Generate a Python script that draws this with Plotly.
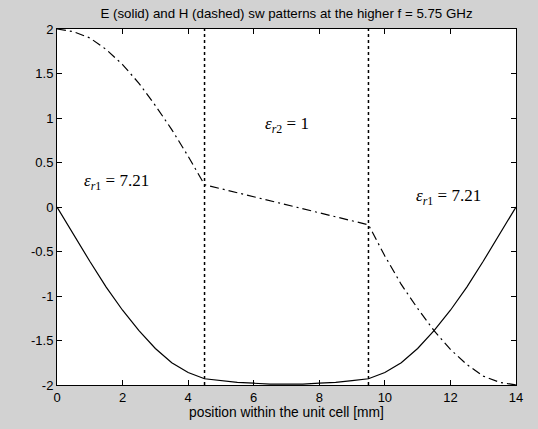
import plotly.graph_objects as go

# position within the unit cell [mm]
x_pos = [0, 0.5, 1, 1.5, 2, 2.5, 3, 3.5, 4, 4.5,
         5, 5.5, 6, 6.5, 7, 7.5, 8, 8.5, 9, 9.5,
         10, 10.5, 11, 11.5, 12, 12.5, 13, 13.5, 14]
# E field (solid)
e_field = [0, -0.31, -0.61, -0.90, -1.16, -1.39, -1.59, -1.75, -1.86, -1.93,
           -1.95, -1.97, -1.98, -1.99, -1.99, -1.99, -1.98, -1.97, -1.95, -1.93,
           -1.86, -1.75, -1.59, -1.39, -1.16, -0.90, -0.61, -0.31, 0]
# H field (dashed)
h_field = [2, 1.97, 1.90, 1.77, 1.60, 1.39, 1.14, 0.87, 0.57, 0.25,
           0.205, 0.16, 0.115, 0.07, 0.025, -0.02, -0.065, -0.11, -0.155, -0.2,
           -0.55, -0.87, -1.14, -1.39, -1.60, -1.77, -1.90, -1.97, -2]
# layer boundaries
boundaries = [4.5, 9.5]
x_ticks = [0, 2, 4, 6, 8, 10, 12, 14]
y_ticks = [-2, -1.5, -1, -0.5, 0, 0.5, 1, 1.5, 2]
y_tick_labels = ["-2", "-1.5", "-1", "-0.5", "0", "0.5", "1", "1.5", "2"]

labels = [
    (1.8, 0.28, "<i>ε</i><sub><i>r</i>1</sub> = 7.21"),
    (7.0, 0.92, "<i>ε</i><sub><i>r</i>2</sub> = 1"),
    (11.95, 0.11, "<i>ε</i><sub><i>r</i>1</sub> = 7.21"),
]

fig = go.Figure()
for b in boundaries:
    fig.add_trace(go.Scatter(x=[b, b], y=[-2, 2], mode="lines",
                             line=dict(color="black", width=1.5, dash="3px,3px"),
                             showlegend=False, hoverinfo="skip"))
fig.add_trace(go.Scatter(x=x_pos, y=e_field, mode="lines",
                         line=dict(color="black", width=1.2), showlegend=False))
fig.add_trace(go.Scatter(x=x_pos, y=h_field, mode="lines",
                         line=dict(color="black", width=1.2, dash="9px,4px,2px,4px"),
                         showlegend=False))

for lx, ly, txt in labels:
    fig.add_annotation(x=lx, y=ly, text=txt, showarrow=False,
                       font=dict(family="Liberation Serif, Times New Roman, serif",
                                 size=17, color="black"))

axis_common = dict(showline=True, linecolor="black", linewidth=1, mirror="ticks",
                   ticks="inside", ticklen=5, tickcolor="black", showgrid=False,
                   zeroline=False,
                   tickfont=dict(family="Liberation Sans, Arial, sans-serif",
                                 size=13, color="black"))

fig.update_layout(
    width=538, height=429,
    margin=dict(l=57, r=22, t=29, b=44),
    paper_bgcolor="#d2d2d2",
    plot_bgcolor="white",
    title=dict(text="E (solid) and H (dashed) sw patterns at the higher f = 5.75 GHz",
               x=(57 + 516) / 2 / 538, xanchor="center", y=1 - 13 / 429, yanchor="middle",
               font=dict(family="Liberation Sans, Arial, sans-serif", size=13.3, color="black")),
    xaxis=dict(range=[0, 14], tickvals=x_ticks, ticktext=[str(t) for t in x_ticks],
               title=dict(text="position within the unit cell [mm]", standoff=3,
                          font=dict(family="Liberation Sans, Arial, sans-serif",
                                    size=13.8, color="black")),
               **axis_common),
    yaxis=dict(range=[-2, 2], tickvals=y_ticks, ticktext=y_tick_labels, **axis_common),
)

fig.write_html("out.html")
